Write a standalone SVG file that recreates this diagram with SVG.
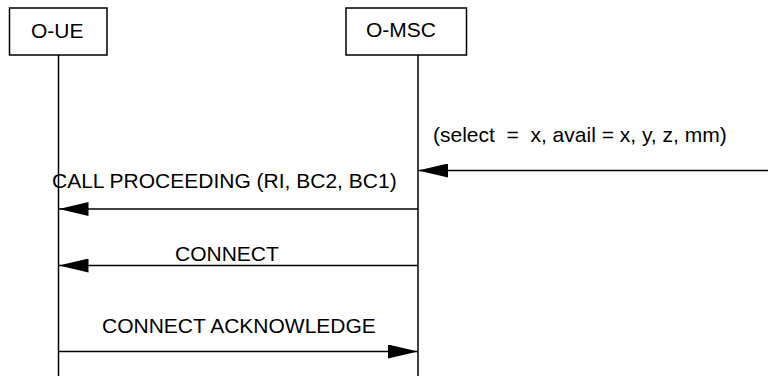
<svg xmlns="http://www.w3.org/2000/svg" width="768" height="376" viewBox="0 0 768 376">
<style>
.box{fill:#fff;stroke:#000;stroke-width:1.5}
.life{stroke:#000;stroke-width:1.5;fill:none}
.msg{stroke:#000;stroke-width:1.5;fill:none}
.t{font-family:"Liberation Sans",Arial,sans-serif;font-size:21px;fill:#000;white-space:pre}
</style>
<defs>
<marker id="ah" viewBox="0 0 30 14" refX="30" refY="7" markerWidth="30" markerHeight="14" markerUnits="userSpaceOnUse" orient="auto">
<path d="M0,0 L30,7 L0,14 Z" fill="#000"/>
</marker>
</defs>
<rect width="768" height="376" fill="#fff"/>
<g id="node-oue">
<rect class="box" x="9.5" y="8" width="97.5" height="47"/>
<text class="t" x="31" y="38">O-UE</text>
<line class="life" x1="58.5" y1="55" x2="58.5" y2="376"/>
</g>
<g id="node-omsc">
<rect class="box" x="346" y="8" width="120.5" height="47"/>
<text class="t" x="366" y="37">O-MSC</text>
<line class="life" x1="418" y1="55" x2="418" y2="376"/>
</g>
<g id="connectors">
<line class="msg" x1="768" y1="170.5" x2="418" y2="170.5" marker-end="url(#ah)"/>
<text class="t" x="433" y="142" xml:space="preserve">(select  =  x, avail = x, y, z, mm)</text>
<line class="msg" x1="418" y1="209" x2="58.5" y2="209" marker-end="url(#ah)"/>
<text class="t" x="52" y="188">CALL PROCEEDING (RI, BC2, BC1)</text>
<line class="msg" x1="418" y1="265.5" x2="58.5" y2="265.5" marker-end="url(#ah)"/>
<text class="t" x="175" y="260.5">CONNECT</text>
<line class="msg" x1="58.5" y1="351.5" x2="418" y2="351.5" marker-end="url(#ah)"/>
<text class="t" x="102" y="333">CONNECT ACKNOWLEDGE</text>
</g>
</svg>
